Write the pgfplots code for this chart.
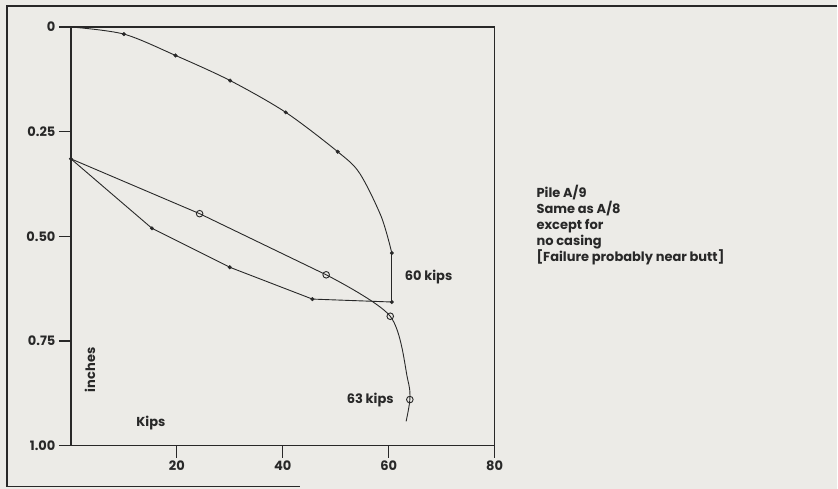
\documentclass[border=0pt]{standalone}
\usepackage{pgfplots}
\pgfplotsset{compat=1.18}
\usepackage{fontspec}
\setmainfont{Poppins}
\definecolor{bg}{RGB}{236,235,231}
\definecolor{ink}{RGB}{40,40,40}
\begin{document}
\begin{tikzpicture}[x=1pt,y=1pt]
\fill[bg] (0,0) rectangle (838,489);
\draw[ink, line width=1.5pt] (838,483) -- (7,483) -- (7,2) -- (300,2);
\begin{axis}[at={(71pt,43pt)}, anchor=south west, scale only axis,
  width=424pt, height=419pt, xmin=0, xmax=80, ymin=0, ymax=1, y dir=reverse,
  axis line style={ink, line width=1.6pt},
  xtick={20,40,60,80}, ytick={0,0.25,0.5,0.75,1},
  yticklabels={0,0.25,0.50,0.75,1.00},
  tick align=outside, tick pos=left, major tick length=12pt,
  tick style={ink, line width=1.2pt},
  ticklabel style={font=\bfseries\fontsize{13}{15}\selectfont, text=ink},
  clip=false, /pgf/number format/assume math mode=true]
% upper curve
\addplot[ink, line width=0.9pt, smooth, tension=0.5] coordinates {(0,0) (10.0,0.017) (19.75,0.068) (30.06,0.128) (40.57,0.204) (50.38,0.298) (54.5,0.349) (58.6,0.453) (60.6,0.54)};
\addplot[ink, line width=0.9pt] coordinates {(60.6,0.54) (60.6,0.657)};
% lower curve
\addplot[ink, line width=0.9pt] coordinates {(0,0.315) (15.3,0.481) (30.0,0.574) (45.6,0.650) (60.6,0.657)};
% middle curve
\addplot[ink, line width=0.9pt] coordinates {(0,0.315) (24.3,0.446) (48.2,0.592)};
\addplot[ink, line width=0.9pt, smooth, tension=0.5] coordinates {(48.2,0.592) (60.3,0.691) (63.6,0.842) (64.0,0.890) (63.3,0.942)};
% marks
\addplot[only marks, mark=*, mark size=1.8pt, ink] coordinates {(10.0,0.017) (19.75,0.068) (30.06,0.128) (40.57,0.204) (50.38,0.298) (60.6,0.54) (60.6,0.657) (0,0.315) (15.3,0.481) (30.0,0.574) (45.6,0.650)};
\addplot[only marks, mark=o, mark size=3.3pt, mark options={fill=bg, line width=0.9pt}, ink] coordinates {(24.3,0.446) (48.2,0.592) (60.3,0.691) (64.0,0.890)};
% labels
\node[anchor=west, font=\bfseries\fontsize{13}{15}\selectfont, text=ink] at (axis cs:62.4,0.597) {60 kips};
\node[anchor=east, font=\bfseries\fontsize{13}{15}\selectfont, text=ink] at (axis cs:61.6,0.89) {63 kips};
\node[rotate=90, font=\bfseries\fontsize{13}{15}\selectfont, text=ink] at (axis cs:3.6,0.819) {inches};
\node[font=\bfseries\fontsize{13}{15}\selectfont, text=ink] at (axis cs:15.1,0.947) {Kips};
\node[anchor=north west, align=left, inner sep=0pt, font=\bfseries\fontsize{13}{16}\selectfont, text=ink] at (axis cs:87.9,0.377) {Pile A/9\\Same as A/8\\except for\\no casing\\{[}Failure probably near butt{]}};
\end{axis}
\end{tikzpicture}
\end{document}
